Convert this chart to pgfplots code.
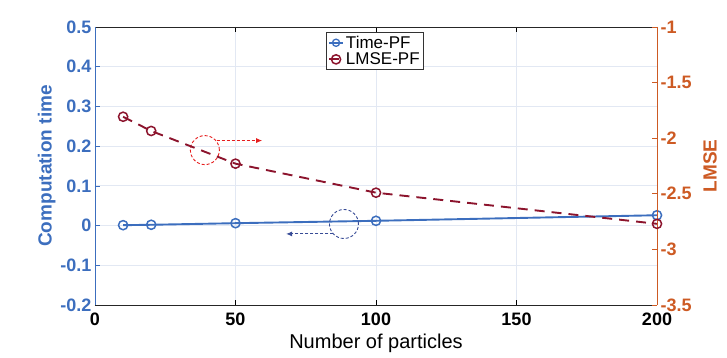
\documentclass[border=0pt]{standalone}
\usepackage{pgfplots}
\pgfplotsset{compat=1.18}
\usepackage{fontspec}
\setmainfont{Liberation Sans}
\usetikzlibrary{arrows.meta}
\definecolor{tblue}{RGB}{60,110,190}
\definecolor{lred}{RGB}{140,20,45}
\definecolor{rorange}{RGB}{205,90,35}
\definecolor{gridc}{RGB}{226,232,243}
\definecolor{cred}{RGB}{230,30,30}
\definecolor{cblue}{RGB}{55,75,150}
\begin{document}
\begin{tikzpicture}
\begin{axis}[
  scale only axis, width=562pt, height=278pt,
  xmin=0, xmax=200, ymin=-0.2, ymax=0.5,
  xtick={0,50,100,150,200},
  ytick={-0.2,-0.1,0,0.1,0.2,0.3,0.4,0.5},
  axis x line*=box, axis y line*=left,
  axis line style={-},
  x axis line style={black!85, line width=0.8pt},
  y axis line style={tblue, line width=0.9pt},
  tick align=inside,
  major tick length=5pt,
  xtick style={black, line width=0.6pt},
  ytick style={tblue, line width=0.6pt},
  grid=major, grid style={gridc, line width=0.8pt},
  /pgf/number format/assume math mode=true,
  tick label style={font=\fontsize{18}{21}\selectfont\bfseries},
  yticklabel style={tblue},
  xticklabel style={black, yshift=-4pt},
  y tick label style={/pgf/number format/fixed},
  xlabel={Number of particles},
  ylabel={Computation time},
  xlabel style={font=\fontsize{20}{23}\selectfont, black, yshift=-2pt},
  ylabel style={font=\fontsize{19}{22}\selectfont\bfseries, tblue, yshift=-2pt},
]
\coordinate (bl) at (rel axis cs:0,0);
\coordinate (tr) at (rel axis cs:1,1);
\addplot[tblue, line width=1.9pt, mark=o, mark size=4.6pt, mark options={solid, line width=1.5pt}]
  coordinates {(10,0.001) (20,0.002) (50,0.006) (100,0.012) (200,0.026)};
\draw[cred, densely dashed, line width=0.9pt] (axis cs:39.1,0.19) circle[radius=14.5pt];
\draw[cred, densely dashed, line width=0.9pt, -{Latex[length=6pt,width=5pt]}] (axis cs:43.3,0.214) -- (axis cs:59.5,0.214);
\draw[cblue, densely dashed, line width=0.9pt] (axis cs:88.6,0.004) circle[radius=14.5pt];
\draw[cblue, densely dashed, line width=0.9pt, -{Latex[length=6pt,width=5pt]}] (axis cs:84.8,-0.021) -- (axis cs:68,-0.021);
\end{axis}
\begin{axis}[
  scale only axis, width=562pt, height=278pt,
  xmin=0, xmax=200, ymin=-3.5, ymax=-1,
  ytick={-3.5,-3,-2.5,-2,-1.5,-1},
  axis x line=none, axis y line*=right,
  axis line style={-},
  y axis line style={rorange, line width=0.9pt},
  tick align=inside,
  major tick length=5pt,
  ytick style={rorange, line width=0.6pt},
  /pgf/number format/assume math mode=true,
  tick label style={font=\fontsize{18}{21}\selectfont\bfseries},
  yticklabel style={rorange},
  ylabel={LMSE},
  ylabel style={font=\fontsize{19}{22}\selectfont\bfseries, rorange, yshift=-5pt},
  legend style={at={(0.498,0.982)}, anchor=north, draw=black!80, line width=0.7pt,
    font=\fontsize{17}{20}\selectfont, inner sep=1.5pt, row sep=-1pt,
    legend cell align=left},
  legend image code/.code={\draw[mark repeat=2,mark phase=2] plot coordinates {(0pt,0pt) (7pt,0pt) (14pt,0pt)};},
]
\addlegendimage{tblue, line width=1.6pt, mark=o, mark size=3.6pt, mark options={solid, line width=1.3pt}}
\addlegendentry{Time-PF}
\addplot[lred, line width=1.9pt, dash pattern=on 10pt off 7pt, mark=o, mark size=4.6pt, mark options={solid, line width=1.5pt}]
  coordinates {(10,-1.807) (20,-1.935) (50,-2.229) (100,-2.49) (200,-2.77)};
\addlegendentry{LMSE-PF}
\end{axis}
\path ([shift={(-95pt,-53pt)}]bl) rectangle ([shift={(70pt,27pt)}]tr);
\end{tikzpicture}
\end{document}
